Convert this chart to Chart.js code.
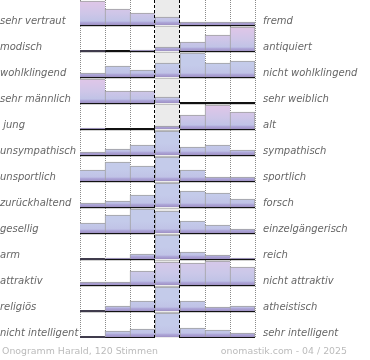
<!DOCTYPE html>
<html>
<head>
<meta charset="utf-8">
<script src="https://cdn.jsdelivr.net/npm/chart.js@4/dist/chart.umd.min.js"></script>
<style>
  html, body { margin: 0; padding: 0; background: #fff; }
  #wrap { width: 370px; height: 360px; position: relative; }
</style>
</head>
<body>
<div id="wrap"><canvas id="c" width="370" height="360"></canvas></div>
<script>
// ---- data (relative bar heights, per row) ----
const steps = ['-3', '-2', '-1', '0', '1', '2', '3'];
const leftLabels = ['sehr vertraut', 'modisch', 'wohlklingend', 'sehr männlich', ' jung',
  'unsympathisch', 'unsportlich', 'zurückhaltend', 'gesellig', 'arm', 'attraktiv',
  'religiös', 'nicht intelligent'];
const rightLabels = ['fremd', 'antiquiert', 'nicht wohlklingend', 'sehr weiblich', 'alt',
  'sympathisch', 'sportlich', 'forsch', 'einzelgängerisch', 'reich', 'nicht attraktiv',
  'atheistisch', 'sehr intelligent'];
const vertraut       = [24, 16, 12, 8, 3, 3, 3];
const modisch        = [0, 0, 1, 4, 9, 16, 24];
const wohlklingend   = [4, 11, 7, 14, 24, 14, 16];
const maennlich      = [24, 12, 12, 6, 0, 0, 0];
const jung           = [1, 0, 0, 3, 14, 24, 17];
const unsympathisch  = [3, 6, 10, 24, 8, 10, 5];
const unsportlich    = [11, 19, 15, 24, 11, 4, 4];
const zurueckhaltend = [4, 6, 12, 24, 16, 14, 8];
const gesellig       = [10, 18, 24, 22, 12, 8, 4];
const arm            = [0, 1, 5, 24, 7, 4, 1];
const attraktiv      = [3, 3, 14, 23, 22, 24, 18];
const religioes      = [0, 5, 10, 24, 10, 4, 5];
const intelligent    = [0, 6, 8, 24, 9, 7, 4];
const footerLeft = 'Onogramm Harald, 120 Stimmen';
const footerRight = 'onomastik.com - 04 / 2025';

const rows = [vertraut, modisch, wohlklingend, maennlich, jung, unsympathisch, unsportlich,
  zurueckhaltend, gesellig, arm, attraktiv, religioes, intelligent];

// ---- layout constants (axis units) ----
const ROW_H = 26, FIRST_BASE = 25, FULL = 24, Y_MAX = 338;
const baselines = rows.map((r, i) => FIRST_BASE + ROW_H * i);

function mixHex(a, b, t) {
  const pa = [1, 3, 5].map(k => parseInt(a.substr(k, 2), 16));
  const pb = [1, 3, 5].map(k => parseInt(b.substr(k, 2), 16));
  return 'rgb(' + pa.map((v, k) => Math.round(v + (pb[k] - v) * t)).join(',') + ')';
}
function rowTint(r) {
  const sum = r.reduce((a, b) => a + b, 0);
  const mean = r.reduce((a, v, k) => a + v * (k + 1), 0) / sum;
  const dev = Math.abs(mean - 4);
  return Math.max(0, Math.min(1, (dev - 0.7) / 0.3));
}
const gradCache = {};
function barFill(ctx) {
  const chart = ctx.chart;
  const ca = chart.chartArea;
  if (!ca) return '#c4cbea';
  const i = ctx.datasetIndex;
  const key = i + '_' + ca.top + '_' + ca.bottom;
  if (gradCache[key]) return gradCache[key];
  const y = chart.scales.y;
  const yb = y.getPixelForValue(baselines[i]);
  const yt = y.getPixelForValue(baselines[i] - FULL);
  const g = chart.ctx.createLinearGradient(0, yt, 0, yb);
  const t = rowTint(rows[i]);
  g.addColorStop(0, mixHex('#c4cbea', '#e0c6e8', t));
  g.addColorStop(0.5, mixHex('#c4cbea', '#cfc6e8', t));
  g.addColorStop(0.84, '#c0c3e6');
  g.addColorStop(0.88, '#b0aadb');
  g.addColorStop(1, '#9e90c4');
  gradCache[key] = g;
  return g;
}

const datasets = rows.map((r, i) => {
  const mx = Math.max(...r);
  return {
    data: r.map(v => [baselines[i] - v / mx * FULL, baselines[i]]),
    backgroundColor: barFill,
    borderColor: '#a0a0a0',
    borderWidth: (c) => ({ top: 1, left: c.dataIndex === 0 ? 0 : 1, right: c.dataIndex === 6 ? 1 : 0, bottom: 0 }),
    borderSkipped: false,
    grouped: false,
    barPercentage: 1,
    categoryPercentage: 1,
  };
});

const bgPlugin = {
  id: 'middleColumn',
  beforeDatasetsDraw(chart) {
    const { ctx, chartArea, scales } = chart;
    const x = scales.x;
    const half = (x.getPixelForValue(1) - x.getPixelForValue(0)) / 2;
    const cx = x.getPixelForValue(3);
    ctx.save();
    ctx.fillStyle = '#ebebeb';
    ctx.fillRect(cx - half, chartArea.top, half * 2, chartArea.bottom - chartArea.top);
    ctx.restore();
  },
  afterDatasetsDraw(chart) {
    const { ctx, chartArea, scales } = chart;
    const x = scales.x;
    const y = scales.y;
    const half = (x.getPixelForValue(1) - x.getPixelForValue(0)) / 2;
    const cx = x.getPixelForValue(3);
    ctx.save();
    // soft shadow under each baseline
    ctx.strokeStyle = 'rgba(0,0,0,0.18)';
    ctx.lineWidth = 1;
    baselines.forEach(b => {
      const p = Math.round(y.getPixelForValue(b)) + 1.5;
      if (p < chartArea.bottom) {
        ctx.beginPath();
        ctx.moveTo(chartArea.left + 1, p);
        ctx.lineTo(chartArea.right + 1, p);
        ctx.stroke();
      }
    });
    ctx.strokeStyle = '#000';
    ctx.setLineDash([3, 2]);
    [cx - half, cx + half].forEach(px => {
      const p = Math.round(px) - 0.5;
      ctx.beginPath();
      ctx.moveTo(p, chartArea.top);
      ctx.lineTo(p, chartArea.bottom);
      ctx.stroke();
    });
    ctx.restore();
  },
  afterDraw(chart) {
    const { ctx } = chart;
    ctx.save();
    ctx.font = '9.4px "DejaVu Sans"';
    ctx.fillStyle = '#bbbbbb';
    ctx.textBaseline = 'middle';
    ctx.textAlign = 'left';
    ctx.fillText(footerLeft, 2, 352);
    ctx.textAlign = 'right';
    ctx.fillText(footerRight, 347, 352);
    ctx.restore();
  }
};

const tickFont = { family: 'DejaVu Sans', size: 10, style: 'italic' };
const noPadV = (s, w) => { s.width = w; s.paddingTop = 0; s.paddingBottom = 0; };

new Chart(document.getElementById('c'), {
  type: 'bar',
  data: { labels: steps, datasets },
  options: {
    responsive: false,
    animation: false,
    layout: { padding: { left: 0, right: 0, top: 0, bottom: 22 } },
    plugins: { legend: { display: false }, tooltip: { enabled: false }, title: { display: false } },
    scales: {
      x: {
        ticks: { display: false },
        grid: {
          offset: true,
          drawTicks: false,
          lineWidth: 1,
          color: (c) => (c.index === 3 || c.index === 4) ? 'rgba(0,0,0,0)' : '#8a8a8a',
        },
        border: { display: false, dash: [1, 1] },
        afterFit: (s) => { s.height = 0; s.paddingLeft = 0; s.paddingRight = 0; },
      },
      y: {
        position: 'left',
        reverse: true,
        min: 0,
        max: Y_MAX,
        z: 1,
        afterBuildTicks: (s) => { s.ticks = baselines.map(v => ({ value: v })); },
        ticks: {
          callback: (v, i) => leftLabels[i],
          crossAlign: 'far',
          labelOffset: -4,
          padding: 0,
          color: '#666666',
          font: tickFont,
          autoSkip: false,
        },
        grid: { color: '#111111', lineWidth: 2, drawTicks: false },
        border: { display: false },
        afterFit: (s) => noPadV(s, 80),
      },
      y2: {
        position: 'right',
        reverse: true,
        min: 0,
        max: Y_MAX,
        afterBuildTicks: (s) => { s.ticks = baselines.map(v => ({ value: v })); },
        ticks: {
          callback: (v, i) => rightLabels[i],
          crossAlign: 'near',
          labelOffset: -4,
          padding: 8,
          color: '#666666',
          font: tickFont,
          autoSkip: false,
        },
        grid: { display: false, drawTicks: false },
        border: { display: false },
        afterFit: (s) => noPadV(s, 115),
      }
    }
  },
  plugins: [bgPlugin]
});
</script>
</body>
</html>
